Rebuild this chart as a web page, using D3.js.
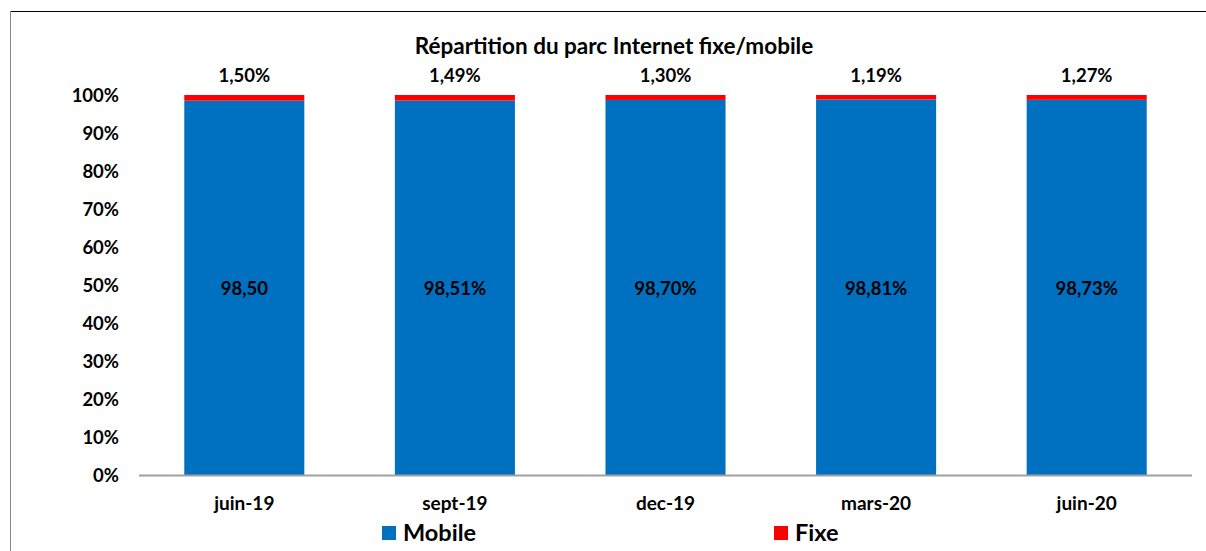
<!DOCTYPE html>
<html><head><meta charset="utf-8">
<script src="https://cdn.jsdelivr.net/npm/d3@7"></script>
<style>body{margin:0;background:#fff}svg{display:block}text{font-family:Lato,"Open Sans",sans-serif;font-weight:bold;fill:#000}</style>
</head><body><svg id="c" width="1206" height="551"></svg>
<script>
const categories = ["juin-19","sept-19","dec-19","mars-20","juin-20"];
const mobile = [98.50, 98.51, 98.70, 98.81, 98.73];
const fixe = [1.50, 1.49, 1.30, 1.19, 1.27];
const mobileLabels = ["98,50","98,51%","98,70%","98,81%","98,73%"];
const fixeLabels = ["1,50%","1,49%","1,30%","1,19%","1,27%"];
const yTicks = [0,10,20,30,40,50,60,70,80,90,100];
const title = "Répartition du parc Internet fixe/mobile";
const seriesNames = ["Mobile","Fixe"];
const colors = ["#0070C0","#FF0000"];

const svg = d3.select("#c");
// frame
svg.append("line").attr("x1",10).attr("x2",1206).attr("y1",11.5).attr("y2",11.5).attr("stroke","#000").attr("stroke-width",1);
svg.append("line").attr("x1",10.5).attr("x2",10.5).attr("y1",11).attr("y2",551).attr("stroke","#888").attr("stroke-width",1);

const x = d3.scaleBand().domain(categories).range([139,1192]).paddingInner(0.43).paddingOuter(0.215);
const y = d3.scaleLinear().domain([0,100]).range([475,95]);

svg.append("text").attr("x",614).attr("y",54).attr("text-anchor","middle").attr("font-size",22.5).text(title);

// y labels
svg.selectAll(".yt").data(yTicks).enter().append("text")
  .attr("x",119).attr("y",d=>y(d)+6.5).attr("text-anchor","end").attr("font-size",18.5).text(d=>d+"%");

const data = categories.map((c,i)=>({c,m:mobile[i],f:fixe[i],ml:mobileLabels[i],fl:fixeLabels[i]}));
svg.selectAll(".bm").data(data).enter().append("rect")
  .attr("x",d=>x(d.c)).attr("width",x.bandwidth()).attr("y",d=>y(d.m)).attr("height",d=>y(0)-y(d.m)).attr("fill",colors[0]);
svg.selectAll(".bf").data(data).enter().append("rect")
  .attr("x",d=>x(d.c)).attr("width",x.bandwidth()).attr("y",d=>y(d.m+d.f)).attr("height",d=>y(d.m)-y(d.m+d.f)).attr("fill",colors[1]);

svg.selectAll(".lm").data(data).enter().append("text")
  .attr("x",d=>x(d.c)+x.bandwidth()/2).attr("y",d=>(y(0)+y(d.m))/2+7.5).attr("text-anchor","middle").attr("font-size",18.5).text(d=>d.ml);
svg.selectAll(".lf").data(data).enter().append("text")
  .attr("x",d=>x(d.c)+x.bandwidth()/2).attr("y",d=>y(d.m+d.f)-13).attr("text-anchor","middle").attr("font-size",18.5).text(d=>d.fl);

// axis line
svg.append("line").attr("x1",139).attr("x2",1192).attr("y1",475.5).attr("y2",475.5).attr("stroke","#A0A0A0").attr("stroke-width",2);
svg.selectAll(".xl").data(categories).enter().append("text")
  .attr("x",d=>x(d)+x.bandwidth()/2).attr("y",510).attr("text-anchor","middle").attr("font-size",19).text(d=>d);

// legend
const lx=[382,774];
seriesNames.forEach((n,i)=>{
  svg.append("rect").attr("x",lx[i]).attr("y",526).attr("width",14).attr("height",14).attr("fill",colors[i]);
  svg.append("text").attr("x",lx[i]+21).attr("y",541).attr("font-size",23.5).text(n);
});
</script></body></html>
